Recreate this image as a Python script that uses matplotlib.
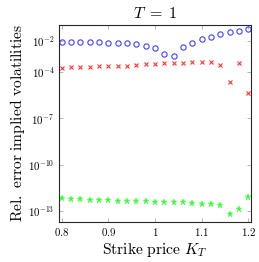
import numpy as np
import matplotlib
matplotlib.use("Agg")
import matplotlib.pyplot as plt
from matplotlib.ticker import FixedLocator, FixedFormatter, NullLocator

plt.rcParams['mathtext.fontset'] = 'cm'
plt.rcParams['font.family'] = ['cmr10', 'DejaVu Serif']
plt.rcParams['axes.formatter.use_mathtext'] = True

strikes = [0.80, 0.82, 0.84, 0.86, 0.88, 0.90, 0.92, 0.94, 0.96, 0.98, 1.00,
           1.02, 1.04, 1.06, 1.08, 1.10, 1.12, 1.14, 1.16, 1.18, 1.20]
log_err_blue = [-2.09, -2.09, -2.09, -2.09, -2.09, -2.11, -2.11, -2.13, -2.19, -2.30, -2.47,
                -2.86, -2.97, -2.41, -2.11, -1.89, -1.72, -1.57, -1.42, -1.35, -1.24]
log_err_red = [-3.73, -3.68, -3.66, -3.66, -3.64, -3.60, -3.60, -3.60, -3.57, -3.51, -3.49,
               -3.45, -3.45, -3.45, -3.38, -3.34, -3.38, -3.57, -4.65, -3.40, -5.37]
log_err_green = [-12.16, -12.22, -12.24, -12.26, -12.29, -12.31, -12.33, -12.33, -12.33, -12.35, -12.39,
                 -12.42, -12.44, -12.44, -12.48, -12.52, -12.54, -12.63, -13.23, -12.85, -12.09]

xticks = [0.8, 0.9, 1.0, 1.1, 1.2]
xticklabels = ["0.8", "0.9", "1", "1.1", "1.2"]
yticks_exp = [-13, -10, -7, -4, -2]

blue_vals = [10 ** v for v in log_err_blue]
red_vals = [10 ** v for v in log_err_red]
green_vals = [10 ** v for v in log_err_green]

fig = plt.figure(figsize=(2.59, 2.62), dpi=100)
ax = fig.add_axes([0.226, 0.153, 0.743, 0.752])

ax.plot(strikes, blue_vals, linestyle='none', marker='o', markersize=3.8,
        markerfacecolor='none', markeredgecolor=(0.25, 0.25, 1.0), markeredgewidth=0.8)
ax.plot(strikes, red_vals, linestyle='none', marker='x', markersize=3.2,
        color=(1.0, 0.2, 0.2), markeredgewidth=0.8)
ax.plot(strikes, green_vals, linestyle='none', marker='*', markersize=4.5,
        color=(0.2, 1.0, 0.2), markeredgewidth=0.3)

ax.set_yscale('log')
ax.set_xlim(0.793, 1.206)
ax.set_ylim(10 ** -13.71, 10 ** -0.96)

ax.xaxis.set_major_locator(FixedLocator(xticks))
ax.xaxis.set_major_formatter(FixedFormatter([r"$%s$" % s for s in xticklabels]))
ax.yaxis.set_major_locator(FixedLocator([10.0 ** e for e in yticks_exp]))
ax.yaxis.set_major_formatter(FixedFormatter([r"$10^{%d}$" % e for e in yticks_exp]))
ax.yaxis.set_minor_locator(NullLocator())
ax.xaxis.set_minor_locator(NullLocator())

ax.tick_params(direction='in', length=3, width=0.5, color='0.6',
               top=True, right=True, labelsize=7.8, pad=3)
for sp in ax.spines.values():
    sp.set_linewidth(0.8)
    sp.set_color('0.15')

ax.set_title(r"$T\;=\;1$", fontsize=11.5, pad=5)
ax.set_xlabel(r"$\mathrm{Strike\ price}\ K_T$", fontsize=11.2, labelpad=2)
ax.set_ylabel(r"$\mathrm{Rel.\ error\ implied\ volatilities}$", fontsize=11.2, labelpad=1)

fig.savefig("out.png", dpi=100)
